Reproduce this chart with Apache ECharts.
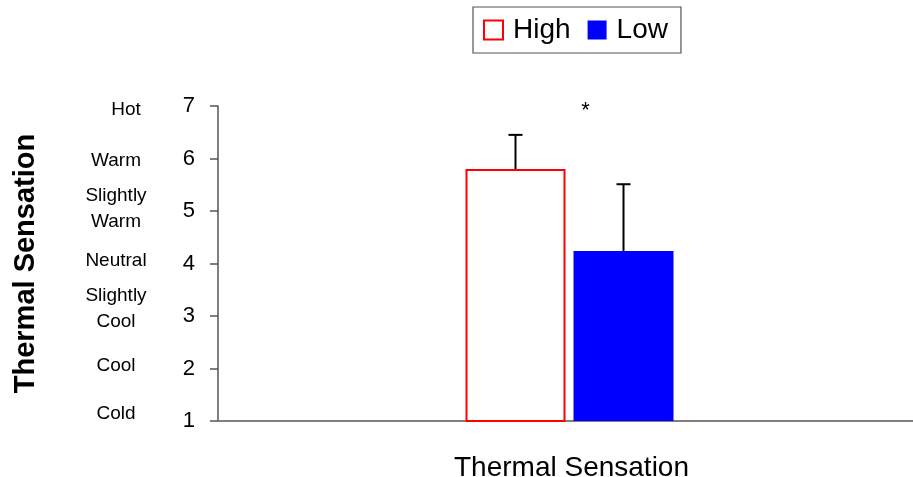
<!DOCTYPE html>
<html>
<head>
<meta charset="utf-8">
<script src="https://cdn.jsdelivr.net/npm/echarts@6/dist/echarts.min.js"></script>
<style>html,body{margin:0;padding:0;background:#fff}#c{width:913px;height:477px}</style>
</head>
<body>
<div id="c"></div>
<script>
const categories = ['Thermal Sensation'];
const seriesNames = ['High', 'Low'];
const highValues = [5.80];
const highErrors = [0.65];
const lowValues = [4.24];
const lowErrors = [1.27];
const yTicks = [1, 2, 3, 4, 5, 6, 7];
const sensationLabels = ['Cold', 'Cool', 'Slightly\nCool', 'Neutral', 'Slightly\nWarm', 'Warm', 'Hot'];
const significanceMark = '*';
const significanceLevel = 6.9;

// label nudges (style only, in px; +y = down, +x = right)
const labelShiftY = [-7, -3, -7.5, -3, -2.5, 2.5, 4];
const labelShiftX = [0, 0, 0, 0, 0, 0, 10];

const FONT = "'Liberation Sans', Arial, sans-serif";
const BAR_W = 100, BAR_GAP = 8;

const chart = echarts.init(document.getElementById('c'), null, {renderer: 'canvas'});

function errorSeries(vals, errs, side) {
  return {
    type: 'custom',
    z: 5,
    silent: true,
    data: vals.map((v, i) => [i, v, errs[i]]),
    encode: {x: 0, y: 1},
    renderItem: function (params, api) {
      const base = api.coord([api.value(0), api.value(1)]);
      const top = api.coord([api.value(0), api.value(1) + api.value(2)]);
      const x = base[0] + side * (BAR_W + BAR_GAP) / 2;
      const cap = 7;
      const style = {stroke: '#000', lineWidth: 2};
      return {
        type: 'group',
        children: [
          {type: 'line', shape: {x1: x, y1: base[1], x2: x, y2: top[1]}, style: style},
          {type: 'line', shape: {x1: x - cap, y1: top[1], x2: x + cap, y2: top[1]}, style: style}
        ]
      };
    }
  };
}

// rich style per label: padding shifts the text inside its line
const rich = {};
sensationLabels.forEach((t, i) => {
  const dy = labelShiftY[i], dx = labelShiftX[i];
  rich['s' + i] = {
    fontSize: 19, lineHeight: 26, color: '#000', fontFamily: FONT, align: 'center',
    padding: [Math.max(0, 2 * dy), 0, Math.max(0, -2 * dy), 2 * dx]
  };
});

chart.setOption({
  animation: false,
  textStyle: {fontFamily: FONT},
  grid: {left: 218, right: -8, top: 106, bottom: 56, containLabel: false, outerBoundsMode: 'none'},
  legend: {
    data: seriesNames,
    left: 473, top: 7,
    padding: [9, 13, 9, 10],
    borderColor: '#555', borderWidth: 1.2,
    itemWidth: 19, itemHeight: 19, itemGap: 17,
    icon: 'rect',
    textStyle: {fontSize: 28, color: '#000', fontFamily: FONT, padding: [0, 0, 0, 5]}
  },
  xAxis: {
    type: 'category',
    data: categories,
    name: categories[0],
    nameLocation: 'middle',
    nameGap: 33,
    nameTextStyle: {fontSize: 28, color: '#000', fontFamily: FONT, padding: [0, 0, 0, 4]},
    axisLine: {lineStyle: {color: '#808080', width: 2}},
    axisTick: {show: false},
    axisLabel: {show: false},
    splitLine: {show: false}
  },
  yAxis: [
    {
      type: 'value',
      min: yTicks[0], max: yTicks[yTicks.length - 1], interval: 1,
      name: 'Thermal Sensation',
      nameLocation: 'middle',
      nameGap: 178,
      nameTextStyle: {fontSize: 29, fontWeight: 'bold', color: '#000', fontFamily: FONT},
      axisLine: {show: true, lineStyle: {color: '#555', width: 1.5}},
      axisTick: {show: true, length: 8, lineStyle: {color: '#555', width: 1.5}},
      axisLabel: {fontSize: 22, color: '#000', margin: 23, fontFamily: FONT, padding: [4, 0, 0, 0]},
      splitLine: {show: false}
    },
    {
      type: 'value',
      position: 'left',
      min: yTicks[0], max: yTicks[yTicks.length - 1], interval: 1,
      axisLine: {show: false},
      axisTick: {show: false},
      splitLine: {show: false},
      axisLabel: {
        margin: 102,
        align: 'center',
        fontSize: 19,
        lineHeight: 26,
        color: '#000',
        fontFamily: FONT,
        formatter: function (v) {
          const i = Math.round(v) - yTicks[0];
          const t = sensationLabels[i];
          if (t === undefined) return '';
          return t.split('\n').map(l => '{s' + i + '|' + l + '}').join('\n');
        },
        rich: rich
      }
    }
  ],
  series: [
    {
      name: seriesNames[0],
      type: 'bar',
      data: highValues,
      barWidth: BAR_W,
      barGap: (BAR_GAP / BAR_W * 100) + '%',
      itemStyle: {color: '#ffffff', borderColor: '#ff0000', borderWidth: 2}
    },
    {
      name: seriesNames[1],
      type: 'bar',
      data: lowValues,
      barWidth: BAR_W,
      itemStyle: {color: '#0000ff'},
      markPoint: {
        symbol: 'circle',
        symbolSize: 0,
        data: [{coord: [0, significanceLevel]}],
        label: {show: true, formatter: significanceMark, position: 'inside', offset: [-38, 0], fontSize: 22, color: '#000', fontFamily: FONT}
      }
    },
    errorSeries(highValues, highErrors, -1),
    errorSeries(lowValues, lowErrors, 1)
  ]
});
</script>
</body>
</html>
